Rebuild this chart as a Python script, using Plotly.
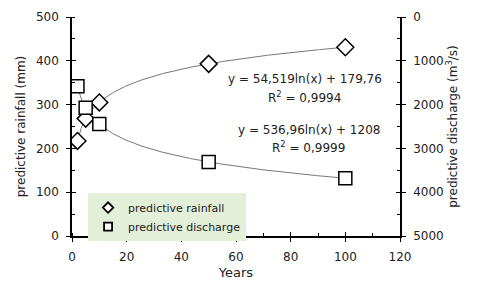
import numpy as np
import plotly.graph_objects as go

years = [2, 5, 10, 50, 100]
rainfall = [217, 268, 305, 393, 431]
discharge = [1580, 2072, 2444, 3308, 3681]

eq_rain = ["y = 54,519ln(x) + 179,76", "R<sup>2</sup> = 0,9994"]
eq_dis = ["y = 536,96ln(x) + 1208", "R<sup>2</sup> = 0,9999"]

FONT = "DejaVu Sans"
fs = 12

# logarithmic trend lines fitted from the data
xg = np.linspace(min(years), max(years), 300)
a1, b1 = np.polyfit(np.log(years), rainfall, 1)
a2, b2 = np.polyfit(np.log(years), discharge, 1)

fig = go.Figure()
fig.add_trace(go.Scatter(x=xg, y=a1 * np.log(xg) + b1, mode="lines",
                         line=dict(color="#777", width=1), showlegend=False, hoverinfo="skip"))
fig.add_trace(go.Scatter(x=xg, y=a2 * np.log(xg) + b2, mode="lines", yaxis="y2",
                         line=dict(color="#777", width=1), showlegend=False, hoverinfo="skip"))
fig.add_trace(go.Scatter(x=years, y=rainfall, mode="markers", showlegend=False,
                         marker=dict(symbol="diamond", size=13, color="white",
                                     line=dict(color="black", width=1.5))))
fig.add_trace(go.Scatter(x=years, y=discharge, mode="markers", showlegend=False,
                         yaxis="y2",
                         marker=dict(symbol="square", size=13, color="white",
                                     line=dict(color="black", width=1.5))))
# legend entries with small markers
fig.add_trace(go.Scatter(x=[None], y=[None], mode="markers", name="predictive rainfall",
                         marker=dict(symbol="diamond", size=8, color="white",
                                     line=dict(color="black", width=1.8))))
fig.add_trace(go.Scatter(x=[None], y=[None], mode="markers", name="predictive discharge",
                         marker=dict(symbol="square", size=8, color="white",
                                     line=dict(color="black", width=1.8))))

axcommon = dict(showgrid=False, zeroline=False, showline=True, linecolor="black",
                linewidth=1.5, ticks="outside", ticklen=4, tickwidth=1.3, tickcolor="black",
                automargin=False, ticklabelstandoff=5,
                tickfont=dict(family=FONT, size=fs, color="#222"))
overlay = dict(showticklabels=False, ticks="inside", ticklen=4, tickwidth=1.3,
               tickcolor="black", showgrid=False, zeroline=False, showline=False,
               automargin=False)

# page has an 8px body margin, so the figure is 8px smaller than the window
fig.update_layout(
    width=472, height=284,
    margin=dict(l=64, r=80, t=9, b=56),
    plot_bgcolor="white", paper_bgcolor="white",
    font=dict(family=FONT, size=fs, color="#222"),
    xaxis=dict(range=[0, 120], dtick=20, tick0=0,
               minor=dict(dtick=10, ticks="inside", ticklen=3, tickcolor="black", tickwidth=1),
               title=dict(text="Years", font=dict(family=FONT, size=fs + 1), standoff=5),
               **axcommon),
    yaxis=dict(range=[0, 500], dtick=100, tick0=0,
               minor=dict(dtick=50, ticks="inside", ticklen=3, tickcolor="black", tickwidth=1),
               title=dict(text="predictive rainfall (mm)", font=dict(family=FONT, size=fs), standoff=8),
               **axcommon),
    yaxis2=dict(range=[5000, 0], dtick=1000, tick0=0, overlaying="y", side="right",
                minor=dict(dtick=500, ticks="inside", ticklen=3, tickcolor="black", tickwidth=1),
                title=dict(text="predictive discharge (m<sup>3</sup>/s)", font=dict(family=FONT, size=fs), standoff=6),
                **axcommon),
    # inside halves of the crossing major ticks
    xaxis2=dict(range=[0, 120], dtick=20, tick0=0, overlaying="x", anchor="y", **overlay),
    yaxis3=dict(range=[0, 500], dtick=100, tick0=0, overlaying="y", anchor="x", **overlay),
    yaxis4=dict(range=[5000, 0], dtick=1000, tick0=0, overlaying="y", side="right",
                anchor="x", **overlay),
    legend=dict(x=0.049, y=0.196, xanchor="left", yanchor="top", bgcolor="#e3efd9",
                borderwidth=0, font=dict(family=FONT, size=11, color="#222"),
                itemwidth=30, tracegroupgap=0),
    showlegend=True,
)

# dummy traces to activate the overlay tick axes
fig.add_trace(go.Scatter(x=[None], y=[None], xaxis="x2", yaxis="y3", showlegend=False, hoverinfo="skip"))
fig.add_trace(go.Scatter(x=[None], y=[None], yaxis="y4", showlegend=False, hoverinfo="skip"))

for txt, xx, yy in [(eq_rain[0], 0.71, 0.717), (eq_rain[1], 0.71, 0.635),
                    (eq_dis[0], 0.723, 0.484), (eq_dis[1], 0.72, 0.406)]:
    fig.add_annotation(xref="paper", yref="paper", x=xx, y=yy, text=txt,
                       xanchor="center", yanchor="middle",
                       showarrow=False, font=dict(family=FONT, size=fs))

fig.write_html("out.html")
